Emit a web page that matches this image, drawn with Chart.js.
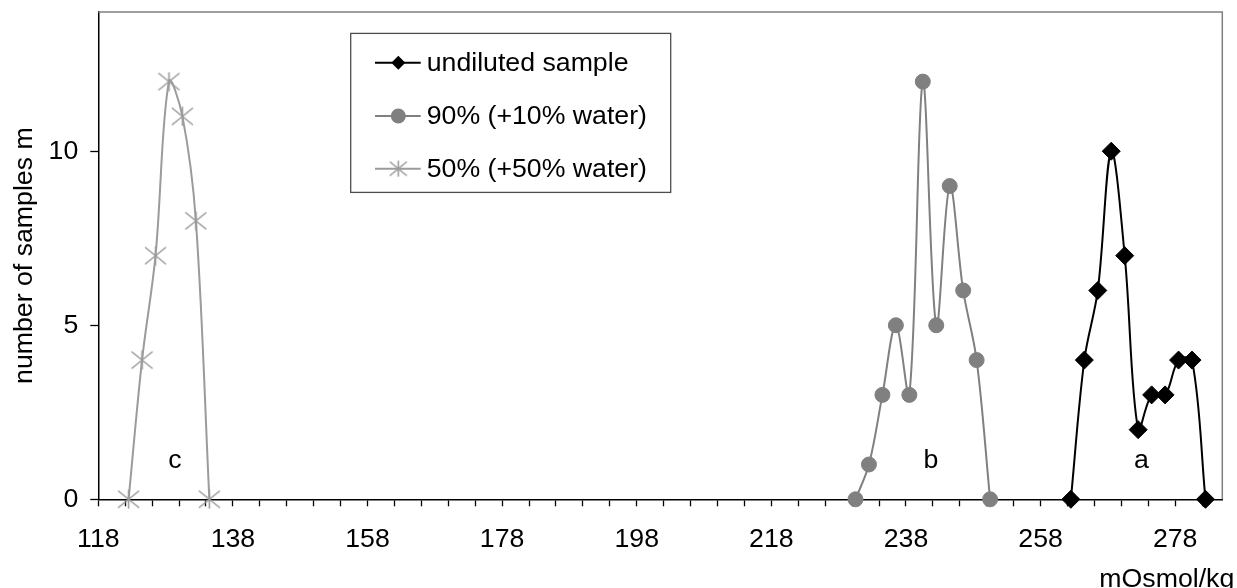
<!DOCTYPE html>
<html><head><meta charset="utf-8">
<script src="https://cdn.jsdelivr.net/npm/chart.js@4/dist/chart.umd.min.js"></script>
<style>html,body{margin:0;padding:0;background:#fff;}#wrap{width:1237px;height:588px;}</style>
</head><body><div id="wrap"><canvas id="c" width="1237" height="588"></canvas></div>
<script>
// ---- data ----
const seriesNames = ['undiluted sample', '90% (+10% water)', '50% (+50% water)'];
const xUndiluted = [262.5, 264.5, 266.5, 268.5, 270.5, 272.5, 274.5, 276.5, 278.5, 280.5, 282.5];
const yUndiluted = [0, 4, 6, 10, 7, 2, 3, 3, 4, 4, 0];
const x90 = [230.5, 232.5, 234.5, 236.5, 238.5, 240.5, 242.5, 244.5, 246.5, 248.5, 250.5];
const y90 = [0, 1, 3, 5, 3, 12, 5, 9, 6, 4, 0];
const x50 = [122.5, 124.5, 126.5, 128.5, 130.5, 132.5, 134.5];
const y50 = [0, 4, 7, 12, 11, 8, 0];
const xMajorTicks = [118, 138, 158, 178, 198, 218, 238, 258, 278];
const xAllTicks = [118, 122, 126, 130, 134, 138, 142, 146, 150, 154, 158, 162, 166, 170, 174, 178, 182, 186, 190, 194, 198, 202, 206, 210, 214, 218, 222, 226, 230, 234, 238, 242, 246, 250, 254, 258, 262, 266, 270, 274, 278, 282];
const yTicks = [0, 5, 10];
const peakLabels = ['a', 'b', 'c'];
const peakLabelX = [273.0, 241.7, 129.4];
const peakLabelY = [0.9, 0.9, 0.9];
const xTitle = 'mOsmol/kg';
const yTitle = 'number of samples m';

const FONT = '"Liberation Sans", Arial, sans-serif';
const FS = 26.7;
const C_A = '#000000', C_B = '#808080', C_C = '#9b9b9b';

function makeStar(w, h, color) {
  const cv = document.createElement('canvas');
  cv.width = w; cv.height = h;
  const g = cv.getContext('2d');
  g.strokeStyle = color; g.lineWidth = 1.6; g.lineCap = 'butt';
  g.beginPath();
  g.moveTo(1, 1.5); g.lineTo(w - 1, h - 1.5);
  g.moveTo(1, h - 1.5); g.lineTo(w - 1, 1.5);
  g.moveTo(w / 2, 0.5); g.lineTo(w / 2, h - 0.5);
  g.stroke();
  return cv;
}
const starImg = makeStar(23, 20, C_C);
const starSmall = makeStar(19, 17, C_C);

function pts(xs, ys) { return xs.map((x, i) => ({ x: x, y: ys[i] })); }

const extras = {
  id: 'extras',
  beforeDatasetsDraw(chart) {
    const ctx = chart.ctx, ca = chart.chartArea;
    ctx.save();
    ctx.strokeStyle = '#808080'; ctx.lineWidth = 1.5;
    ctx.beginPath();
    ctx.moveTo(ca.left, ca.top); ctx.lineTo(ca.right, ca.top); ctx.lineTo(ca.right, ca.bottom);
    ctx.stroke();
    const xs = chart.scales.x, ys = chart.scales.y;
    ctx.fillStyle = '#000'; ctx.font = FS + 'px ' + FONT;
    ctx.textAlign = 'center'; ctx.textBaseline = 'alphabetic';
    peakLabels.forEach((t, i) => ctx.fillText(t, xs.getPixelForValue(peakLabelX[i]), ys.getPixelForValue(peakLabelY[i])));
    ctx.restore();
  },
  afterDraw(chart) {
    const ctx = chart.ctx, ca = chart.chartArea;
    ctx.save();
    ctx.fillStyle = '#000'; ctx.font = FS + 'px ' + FONT;
    ctx.textAlign = 'right'; ctx.textBaseline = 'alphabetic';
    ctx.fillText(xTitle, ca.right + 12, 587);
    const lx = ca.left + 252.4, ly = ca.top + 21.4, lw = 320, lh = 159;
    ctx.fillStyle = '#fff';
    ctx.fillRect(lx, ly, lw, lh);
    ctx.strokeStyle = '#4d4d4d'; ctx.lineWidth = 1.3;
    ctx.strokeRect(lx, ly, lw, lh);
    const rowY = [ly + 29.3, ly + 82.6, ly + 135.3];
    const colors = [C_A, C_B, C_C];
    rowY.forEach((y, i) => {
      ctx.strokeStyle = colors[i]; ctx.lineWidth = 2;
      ctx.beginPath(); ctx.moveTo(lx + 24.3, y); ctx.lineTo(lx + 70, y); ctx.stroke();
      const mx = lx + 47.6;
      if (i === 0) {
        ctx.fillStyle = C_A; ctx.beginPath();
        ctx.moveTo(mx, y - 7); ctx.lineTo(mx + 7, y); ctx.lineTo(mx, y + 7); ctx.lineTo(mx - 7, y); ctx.closePath(); ctx.fill();
      } else if (i === 1) {
        ctx.fillStyle = C_B; ctx.beginPath(); ctx.arc(mx, y, 7.5, 0, Math.PI * 2); ctx.fill();
      } else {
        ctx.drawImage(starSmall, mx - starSmall.width / 2, y - starSmall.height / 2);
      }
      ctx.fillStyle = '#000'; ctx.font = FS + 'px ' + FONT;
      ctx.textAlign = 'left'; ctx.textBaseline = 'middle';
      ctx.fillText(seriesNames[i], lx + 76, y + 1);
    });
    ctx.restore();
  }
};

new Chart(document.getElementById('c'), {
  type: 'scatter',
  data: {
    datasets: [
      { label: seriesNames[0], data: pts(xUndiluted, yUndiluted), showLine: true, tension: 0.35,
        borderColor: C_A, borderWidth: 2, pointStyle: 'rectRot', pointRadius: 9,
        pointBackgroundColor: C_A, pointBorderColor: C_A, pointBorderWidth: 1, clip: false },
      { label: seriesNames[1], data: pts(x90, y90), showLine: true, tension: 0.35,
        borderColor: C_B, borderWidth: 2, pointStyle: 'circle', pointRadius: 7.5,
        pointBackgroundColor: C_B, pointBorderColor: C_B, pointBorderWidth: 1, clip: false },
      { label: seriesNames[2], data: pts(x50, y50), showLine: true, tension: 0.35,
        borderColor: C_C, borderWidth: 2, pointStyle: starImg, pointRadius: 10,
        clip: false }
    ]
  },
  options: {
    responsive: false, animation: false, devicePixelRatio: 1,
    layout: { padding: { top: 10.3, right: 14.7, left: 0, bottom: 0 } },
    plugins: { legend: { display: false }, tooltip: { enabled: false } },
    scales: {
      x: {
        type: 'linear', min: 118, max: 285,
        afterBuildTicks: s => { s.ticks = xAllTicks.map(v => ({ value: v })); },
        afterFit: s => { s.height = 88.7; s.paddingLeft = 0; s.paddingRight = 0; },
        ticks: { autoSkip: false, maxRotation: 0, minRotation: 0, padding: 17, color: '#000',
          font: { family: FONT, size: FS },
          callback: v => xMajorTicks.includes(v) ? String(v) : '' },
        grid: { drawOnChartArea: false, drawTicks: true, tickLength: 7, color: '#000', tickWidth: 1.3 },
        border: { display: true, color: '#000', width: 1.5 }
      },
      y: {
        type: 'linear', min: 0, max: 14,
        afterBuildTicks: s => { s.ticks = yTicks.map(v => ({ value: v })); },
        afterFit: s => { s.width = 98.3; s.paddingTop = 0; s.paddingBottom = 0; },
        ticks: { padding: 12, color: '#000', font: { family: FONT, size: FS } },
        grid: { drawOnChartArea: false, drawTicks: true, tickLength: 8, color: '#000', tickWidth: 1.3 },
        border: { display: true, color: '#000', width: 1.5 },
        title: { display: true, text: yTitle, color: '#000', font: { family: FONT, size: FS }, padding: { top: 9, bottom: 0 } }
      }
    }
  },
  plugins: [extras]
});
</script></body></html>
